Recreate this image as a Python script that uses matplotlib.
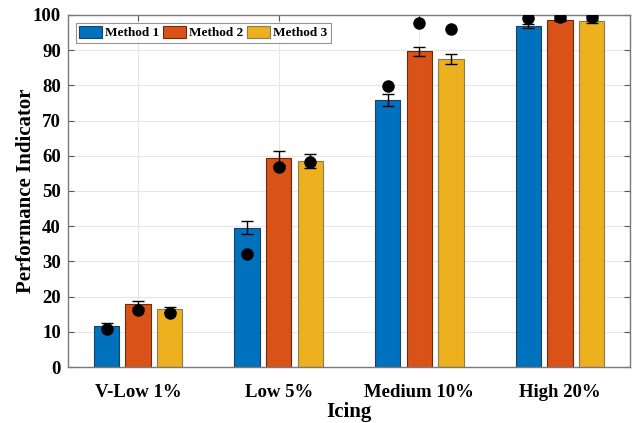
import matplotlib
matplotlib.use("Agg")
import matplotlib.pyplot as plt
import numpy as np

categories = ["V-Low 1%", "Low 5%", "Medium 10%", "High 20%"]
methods = ["Method 1", "Method 2", "Method 3"]
bar_values = [
    [11.8, 39.6, 75.8, 96.9],
    [17.8, 59.3, 89.7, 98.6],
    [16.4, 58.5, 87.4, 98.2],
]
bar_errors = [
    [0.6, 1.8, 1.7, 0.6],
    [0.9, 2.0, 1.3, 0.3],
    [0.7, 1.9, 1.4, 0.4],
]
dot_values = [
    [10.8, 32.1, 79.7, 99.1],
    [16.1, 56.8, 97.8, 99.5],
    [15.3, 58.2, 96.0, 99.4],
]
y_ticks = list(range(0, 101, 10))

colors = ["#0072BD", "#D95319", "#EDB120"]
edges = ["#1f3f5f", "#6b2a0c", "#8a7a55"]

plt.rcParams['font.family'] = ['Liberation Serif', 'DejaVu Serif']
plt.rcParams['font.weight'] = 'bold'

fig = plt.figure(figsize=(6.34, 4.23), dpi=100)
ax = fig.add_axes([0.107, 0.132, 0.887, 0.833])

x = np.arange(1, len(categories) + 1)
offsets = [-0.225, 0.0, 0.225]
width = 0.18
for i in range(3):
    ax.bar(x + offsets[i], bar_values[i], width=width, color=colors[i],
           edgecolor=edges[i], linewidth=0.8, label=methods[i], zorder=2)
    ax.errorbar(x + offsets[i], bar_values[i], yerr=bar_errors[i], fmt='none',
                ecolor='black', elinewidth=1.0, capsize=4.5, capthick=1.0, zorder=3)
    ax.plot(x + offsets[i], dot_values[i], 'o', color='black', markersize=8, zorder=4)

ax.set_xlim(0.5, 4.5)
ax.set_ylim(0, 100)
ax.set_xticks(x)
ax.set_xticklabels(categories, fontsize=13.5, fontweight='bold')
ax.set_yticks(y_ticks)
ax.set_yticklabels([str(t) for t in y_ticks], fontsize=13.5, fontweight='bold')
ax.tick_params(direction='in', top=True, right=True, length=4, color='#555555')
ax.tick_params(axis='x', pad=12)
ax.tick_params(axis='y', pad=5)
ax.grid(True, color='#e6e6e6', linewidth=0.8, zorder=0)
ax.set_axisbelow(True)
for s in ax.spines.values():
    s.set_color('#7a7a7a')
    s.set_linewidth(1.0)

ax.set_xlabel("Icing", fontsize=15, fontweight='bold', labelpad=1)
ax.set_ylabel("Performance Indicator", fontsize=15, fontweight='bold')
ax.yaxis.set_label_coords(-0.057, 0.5)

leg = ax.legend(loc='upper left', ncol=3, frameon=True, fancybox=False,
                handlelength=1.75, handleheight=1.0, columnspacing=0.25, handletextpad=0.25,
                borderpad=0.25, borderaxespad=0.6, prop={'weight': 'bold', 'size': 9.5})
leg.get_frame().set_edgecolor('#7a7a7a')
leg.get_frame().set_linewidth(0.8)

fig.savefig("out.png", dpi=100)
